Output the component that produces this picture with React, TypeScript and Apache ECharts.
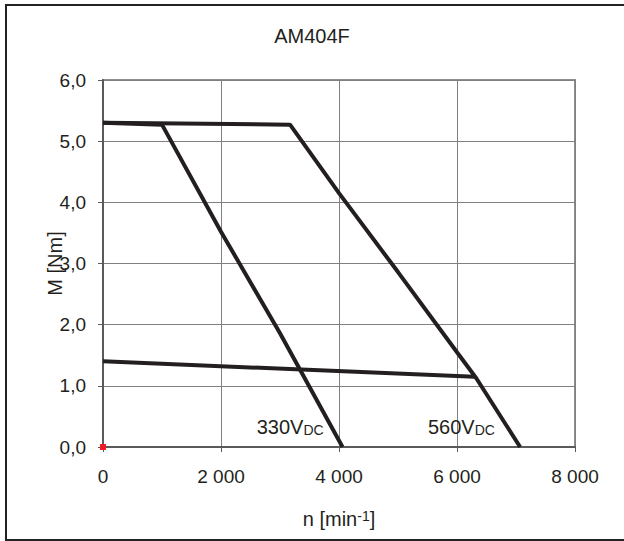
import React, { useEffect, useRef } from "react";
import * as echarts from "echarts";

const FONT = "'Liberation Sans', Arial, sans-serif";
const INK = "#231f20";

const titleText = "AM404F";
const xTicks = { min: 0, max: 8000, step: 2000 };
const yTicks = { min: 0, max: 6, step: 1 };

// characteristic curves [n (min^-1), M (Nm)]
const curve560: number[][] = [
  [0, 5.3],
  [3170, 5.27],
  [4000, 4.15],
  [5000, 2.86],
  [6000, 1.55],
  [6330, 1.12],
  [7070, 0],
];
const curve330: number[][] = [
  [0, 5.3],
  [1000, 5.27],
  [2000, 3.52],
  [3000, 1.86],
  [4060, 0],
];
const lowLine: number[][] = [
  [0, 1.4],
  [6300, 1.15],
];
const originMark: number[][] = [[0, 0]];

const labelPoints = [
  { name: "330V", sub: "DC", at: [2605, 0.16] },
  { name: "560V", sub: "DC", at: [5508, 0.16] },
];

function fmtX(v: number) {
  if (v === 0) return "0";
  const s = String(Math.round(v));
  return s.replace(/\B(?=(\d{3})+(?!\d))/g, " ");
}
function fmtY(v: number) {
  return v.toFixed(1).replace(".", ",");
}

export default function App() {
  const ref = useRef<HTMLDivElement>(null);
  useEffect(() => {
    document.body.style.margin = "0";
    if (!ref.current) return;
    const chart = echarts.init(ref.current, undefined, { renderer: "svg" });
    const lineStyle = { color: INK, width: 4 };
    const noBorder = { textBorderWidth: 0, textBorderColor: "transparent", textShadowBlur: 0 };
    chart.setOption({
      animation: false,
      backgroundColor: "#ffffff",
      title: {
        text: titleText,
        left: "center",
        top: 26,
        padding: 0,
        textStyle: { fontFamily: FONT, fontSize: 20, fontWeight: "normal", color: INK },
      },
      graphic: [
        {
          type: "rect",
          shape: { x: 6, y: 5, width: 700, height: 535 },
          style: { fill: "none", stroke: "#222", lineWidth: 2 },
          silent: true,
        },
      ],
      grid: {
        left: 103,
        right: 49,
        top: 80,
        bottom: 94,
        show: true,
        borderColor: "#909090",
        borderWidth: 2,
      },
      xAxis: {
        type: "value",
        min: xTicks.min,
        max: xTicks.max,
        interval: xTicks.step,
        name: "{a|n [min}{s|-1}{a|]}",
        nameLocation: "middle",
        nameGap: 62,
        nameMoveOverlap: false,
        nameTextStyle: {
          fontFamily: FONT,
          color: INK,
          rich: {
            a: { fontFamily: FONT, fontSize: 20, color: INK, lineHeight: 22, verticalAlign: "top" },
            s: { fontFamily: FONT, fontSize: 14, color: INK, lineHeight: 12, verticalAlign: "top" },
          },
        },
        axisLine: { show: true, onZero: false, lineStyle: { color: "#5a5a5a", width: 2 } },
        axisTick: { show: true, length: 5, inside: false, lineStyle: { color: "#5a5a5a", width: 1 } },
        axisLabel: { fontFamily: FONT, fontSize: 19, color: INK, margin: 20, formatter: fmtX },
        splitLine: { show: true, lineStyle: { color: "#808080", width: 1 } },
      },
      yAxis: {
        type: "value",
        min: yTicks.min,
        max: yTicks.max,
        interval: yTicks.step,
        name: "M [Nm]",
        nameLocation: "middle",
        nameRotate: 90,
        nameGap: 38,
        nameMoveOverlap: false,
        nameTextStyle: { fontFamily: FONT, fontSize: 20, color: INK },
        axisLine: { show: true, onZero: false, lineStyle: { color: "#5a5a5a", width: 2 } },
        axisTick: { show: true, length: 5, inside: false, lineStyle: { color: "#5a5a5a", width: 1 } },
        axisLabel: { fontFamily: FONT, fontSize: 19, color: INK, margin: 17, formatter: fmtY },
        splitLine: { show: true, lineStyle: { color: "#808080", width: 1 } },
      },
      series: [
        { type: "line", data: curve560, showSymbol: false, lineStyle, silent: true, z: 3 },
        { type: "line", data: curve330, showSymbol: false, lineStyle, silent: true, z: 3 },
        { type: "line", data: lowLine, showSymbol: false, lineStyle, silent: true, z: 3 },
        {
          type: "scatter",
          data: originMark,
          symbol: "rect",
          symbolSize: 6,
          itemStyle: { color: "#ee1c25", opacity: 1 },
          z: 5,
        },
        {
          type: "scatter",
          symbolSize: 0,
          z: 4,
          itemStyle: { color: INK, opacity: 1 },
          data: labelPoints.map((p) => ({ value: p.at, name: p.name, sub: p.sub })),
          label: {
            show: true,
            position: "right",
            distance: 0,
            align: "left",
            verticalAlign: "bottom",
            color: INK,
            opacity: 1,
            fontFamily: FONT,
            ...noBorder,
            formatter: (params: any) => `{v|${params.data.name}}{s|${params.data.sub}}`,
            rich: {
              v: { fontFamily: FONT, fontSize: 20, color: INK, lineHeight: 20, verticalAlign: "bottom", ...noBorder },
              s: { fontFamily: FONT, fontSize: 14, color: INK, lineHeight: 10, verticalAlign: "bottom", ...noBorder },
            },
          },
        },
      ],
    });
    return () => chart.dispose();
  }, []);
  return <div ref={ref} style={{ width: 624, height: 541 }} />;
}
